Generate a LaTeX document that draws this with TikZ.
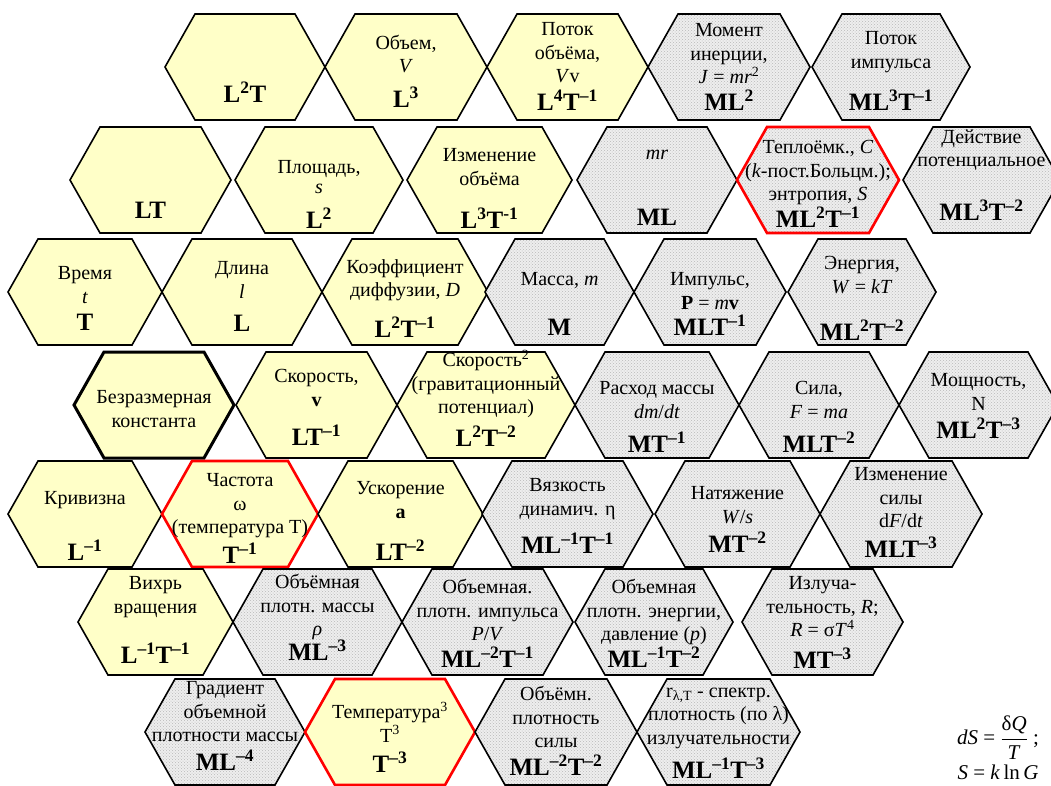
\documentclass[tikz,border=0pt]{standalone}
\usepackage{fontspec}
\usepackage{amsmath}
\setmainfont{Liberation Serif}
\usetikzlibrary{patterns}

\definecolor{hexyellow}{HTML}{FFFFC8}
\definecolor{hexgray}{HTML}{EEEEEE}
\newcommand{\up}[1]{\textsuperscript{#1}}
% name, style, left x, right x, centre y, text, text dy, dimension, dimension dy
\newcommand{\hexcell}[9]{%
  \draw[#2] (#3,#5) -- (#3+30,#5-53) -- (#4-30,#5-53) -- (#4,#5) -- (#4-30,#5+53) -- (#3+30,#5+53) -- cycle;
  \node[desc] (#1) at ({(#3+#4)/2},{#5+(#7)}) {#6};
  \node[dims] (#1-d) at ({(#3+#4)/2},{#5+(#9)}) {#8};}

\tikzset{
  cell/.style={draw=black, line width=1.6pt, line join=miter},
  yel/.style={cell, fill=hexyellow},
  gry/.style={cell, preaction={fill=hexgray}, pattern=crosshatch dots, pattern color=gray!55},
  hot/.style={draw=red, line width=2.6pt},
  desc/.style={align=center, inner sep=0pt, font=\fontsize{20}{23.5}\selectfont},
  dims/.style={inner sep=0pt, font=\fontsize{25}{28}\selectfont\bfseries},
}

\begin{document}
\begin{tikzpicture}[x=1pt,y=-1pt]
\clip (0,0) rectangle (1051,785);
\fill[white] (0,0) rectangle (1051,785);
% row 1
\hexcell{lt2}{yel}{165}{325}{67}{}{0}{L\up{2}T}{25}
\hexcell{vol}{yel}{325}{487}{67}{Объем,\\\textit{V}}{-13}{L\up{3}}{30}
\hexcell{volflow}{yel}{487}{648}{67}{Поток\\объёма,\\\textit{V}v}{-14}{L\up{4}T\up{–1}}{33}
\hexcell{inertia}{gry}{648}{810}{67}{Момент\\инерции,\\\textit{J} = \textit{mr}\up{2}}{-13}{ML\up{2}}{33}
\hexcell{pflow}{gry}{812}{970}{67}{Поток\\импульса}{-15}{ML\up{3}T\up{–1}}{33}
% row 2
\hexcell{lt}{yel}{70}{231}{180}{}{0}{LT}{30}
\hexcell{area}{yel}{235}{403}{180}{Площадь,\\[-3pt]\textit{s}}{-3}{L\up{2}}{38}
\hexcell{dvol}{yel}{407}{572}{180}{Изменение\\объёма}{-13}{L\up{3}T\up{-1}}{38}
\hexcell{mr}{gry}{577}{737}{180}{\textit{mr}}{-25}{ML}{37}
\hexcell{heat}{gry,hot}{737}{899}{180}{Теплоёмк., \textit{C}\\(\textit{k}-пост.Больцм.);\\энтропия, \textit{S}}{-7}{ML\up{2}T\up{–1}}{37}
\hexcell{action}{gry}{903}{1060}{180}{Действие\\потенциальное}{-30}{ML\up{3}T\up{–2}}{30}
% row 3
\hexcell{time}{yel}{8}{162}{292}{Время\\\textit{t}}{-7}{T}{30}
\hexcell{len}{yel}{162}{322}{292}{Длина\\\textit{l}}{-12}{L}{31}
\hexcell{diff}{yel}{322}{488}{292}{Коэффициент\\диффузии, \textit{D}}{-12}{L\up{2}T\up{–1}}{35}
\hexcell{mass}{gry}{485}{634}{292}{Масса, \textit{m}}{-12}{M}{35}
\hexcell{mom}{gry}{634}{786}{292}{Импульс,\\\textbf{P} = \textit{m}\textbf{v}}{-1}{MLT\up{–1}}{33}
\hexcell{energy}{gry}{788}{936}{292}{Энергия,\\\textit{W} = \textit{kT}}{-17}{ML\up{2}T\up{–2}}{38}
% row 4
\hexcell{const}{yel,line width=3pt}{74}{234}{405}{Безразмерная\\константа}{4}{}{0}
\hexcell{vel}{yel}{236}{397}{405}{Скорость,\\\textbf{v}}{-17}{LT\up{–1}}{30}
\hexcell{vel2}{yel}{397}{575}{405}{Скорость\up{2}\\(гравитационный\\потенциал)}{-21}{L\up{2}T\up{–2}}{31}
\hexcell{mflow}{gry}{575}{739}{405}{Расход массы\\\textit{dm}/\textit{dt}}{-5}{MT\up{–1}}{37}
\hexcell{force}{gry}{739}{899}{405}{Сила,\\\textit{F} = \textit{ma}}{-5}{MLT\up{–2}}{37}
\hexcell{power}{gry}{899}{1058}{405}{Мощность,\\N}{-13}{ML\up{2}T\up{–3}}{23}
% row 5
\hexcell{curv}{yel}{8}{162}{514}{Кривизна}{-14}{L\up{–1}}{36}
\hexcell{freq}{yel,hot}{162}{318}{514}{Частота\\ω\\(температура Т)}{-8}{T\up{–1}}{39}
\hexcell{acc}{yel}{318}{483}{514}{Ускорение\\\textbf{a}}{-14}{LT\up{–2}}{36}
\hexcell{visc}{gry}{482}{653}{514}{Вязкость\\динамич. η}{-15}{ML\up{–1}T\up{–1}}{29}
\hexcell{tens}{gry}{655}{820}{514}{Натяжение\\\textit{W}/\textit{s}}{-9}{MT\up{–2}}{28}
\hexcell{dforce}{gry}{820}{982}{514}{Изменение\\силы\\d\textit{F}/d\textit{t}}{-16}{MLT\up{–3}}{33}
% row 6
\hexcell{vort}{yel}{78}{233}{622}{Вихрь\\вращения}{-25}{L\up{–1}T\up{–1}}{31}
\hexcell{rho}{gry}{233}{402}{622}{Объёмная\\плотн. массы\\\textit{ρ}}{-15}{ML\up{–3}}{28}
\hexcell{pdens}{gry}{402}{573}{622}{Объемная.\\плотн. импульса\\\textit{P}/\textit{V}}{-12}{ML\up{–2}T\up{–1}}{35}
\hexcell{edens}{gry}{575}{733}{622}{Объемная\\плотн. энергии,\\давление (\textit{p})}{-10}{ML\up{–1}T\up{–2}}{35}
\hexcell{emit}{gry}{742}{903}{622}{Излуча-\\тельность, \textit{R};\\\textit{R} = σ\textit{T}\up{4}}{-15}{MT\up{–3}}{36}
% row 7
\hexcell{grad}{gry}{145}{305}{732}{Градиент\\объемной\\плотности массы}{-20}{ML\up{–4}}{28}
\hexcell{temp3}{yel,hot}{305}{475}{732}{Температура\up{3}\\Т\up{3}}{-10}{T\up{–3}}{30}
\hexcell{fdens}{gry}{475}{637}{732}{Объёмн.\\плотность\\силы}{-15}{ML\up{–2}T\up{–2}}{33}
\hexcell{spec}{gry}{637}{800}{732}{r\textsubscript{λ,T} - спектр.\\плотность (по λ)\\излучательности}{-14}{ML\up{–1}T\up{–3}}{36}
% entropy
\node[desc, font=\fontsize{21}{27}\selectfont] (entropy) at (998,748) {\textit{dS} = $\dfrac{\text{δ\textit{Q}}}{\text{\textit{T}}}$ ;\\[5pt]\textit{S} = \textit{k}\,ln\,\textit{G}};
\end{tikzpicture}
\end{document}
